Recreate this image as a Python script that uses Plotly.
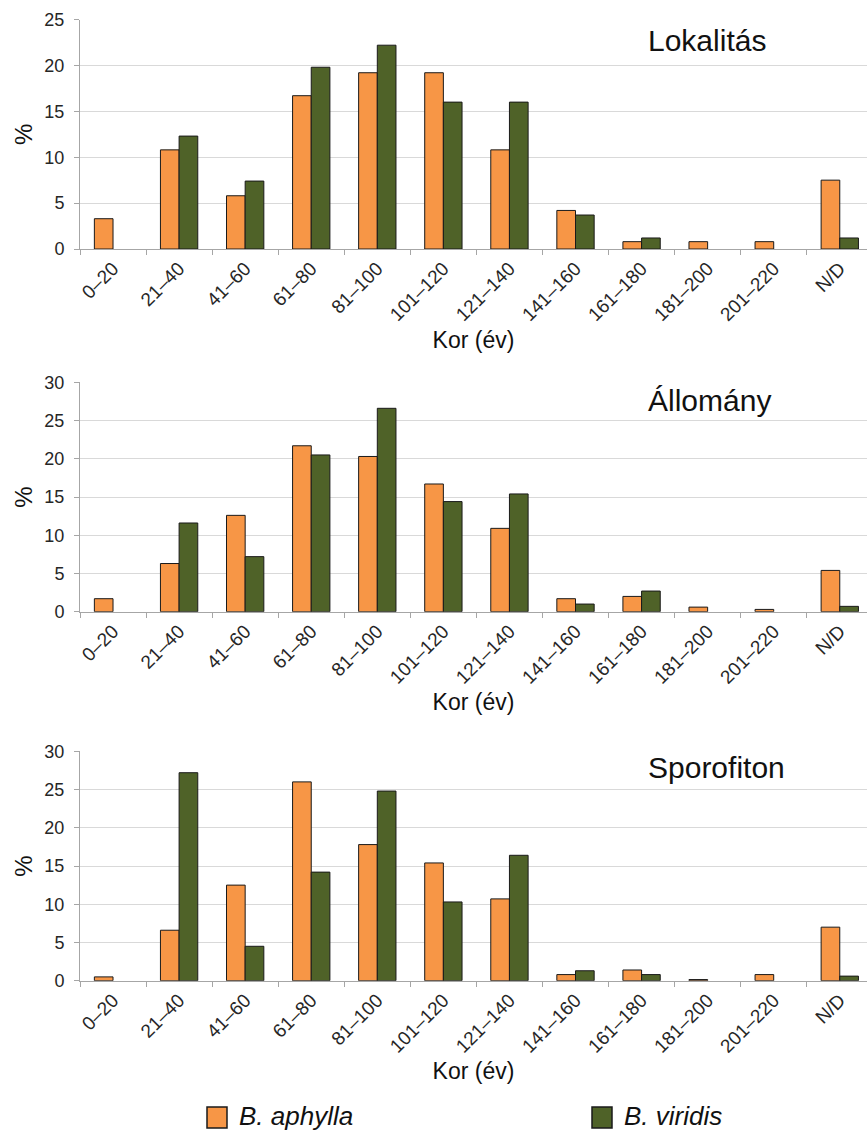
import plotly.graph_objects as go

# Age classes (years)
age_classes = ["0–20", "21–40", "41–60", "61–80", "81–100", "101–120",
               "121–140", "141–160", "161–180", "181–200", "201–220", "N/D"]

series_names = ["B. aphylla", "B. viridis"]

# Percent of localities
lokalitas_aphylla = [3.3, 10.8, 5.8, 16.7, 19.2, 19.2, 10.8, 4.2, 0.8, 0.8, 0.8, 7.5]
lokalitas_viridis = [0, 12.3, 7.4, 19.8, 22.2, 16.0, 16.0, 3.7, 1.2, 0, 0, 1.2]

# Percent of populations
allomany_aphylla = [1.7, 6.3, 12.6, 21.7, 20.3, 16.7, 10.9, 1.7, 2.0, 0.6, 0.3, 5.4]
allomany_viridis = [0, 11.6, 7.2, 20.5, 26.6, 14.4, 15.4, 1.0, 2.7, 0, 0, 0.7]

# Percent of sporophytes
sporofiton_aphylla = [0.5, 6.6, 12.5, 26.0, 17.8, 15.4, 10.7, 0.8, 1.4, 0.15, 0.8, 7.0]
sporofiton_viridis = [0, 27.2, 4.5, 14.2, 24.8, 10.3, 16.4, 1.3, 0.8, 0, 0, 0.6]

panel_titles = ["Lokalitás", "Állomány", "Sporofiton"]
y_maxima = [25, 30, 30]
x_title = "Kor (év)"
y_title = "%"

W, H = 867, 1130
FONT = "Liberation Sans, Arial, sans-serif"
ORANGE = "#F79646"
GREEN = "#4F6228"
series_colors = [ORANGE, GREEN]

panels = [
    (lokalitas_aphylla, lokalitas_viridis),
    (allomany_aphylla, allomany_viridis),
    (sporofiton_aphylla, sporofiton_viridis),
]

# pixel extents of each plot area (top, bottom)
panel_px = [(19.5, 249.0), (382.3, 611.7), (751.3, 980.7)]
title_px = [40.0, 400.5, 767.5]
x_left = 80.0


def px_x(p):
    return p / W


def px_y(p):
    return 1 - p / H


def nonzero(vals):
    # empty classes get no bar at all (not even an outline)
    return [v if v > 0 else None for v in vals]


fig = go.Figure()

for i, pair in enumerate(panels):
    suffix = "" if i == 0 else str(i + 1)
    for name, vals, color in zip(series_names, pair, series_colors):
        fig.add_trace(go.Bar(
            x=age_classes, y=nonzero(vals), name=name,
            marker=dict(color=color, line=dict(color="#1a1a1a", width=1)),
            xaxis="x" + suffix, yaxis="y" + suffix,
            showlegend=False,
        ))

layout = dict(
    width=W, height=H,
    margin=dict(l=0, r=0, t=0, b=0, autoexpand=False),
    paper_bgcolor="white", plot_bgcolor="white",
    barmode="group", bargap=0.435, bargroupgap=0,
    font=dict(family=FONT, color="#262626"),
    showlegend=False,
)

annotations = []
shapes = []
for i in range(3):
    suffix = "" if i == 0 else str(i + 1)
    top, bot = panel_px[i]
    layout["xaxis" + suffix] = dict(
        domain=[px_x(x_left), 1.0],
        anchor="y" + suffix,
        type="category",
        range=[-0.5, 11.412],
        tickson="boundaries",
        ticks="outside", ticklen=5, tickcolor="#a6a6a6",
        showline=True, linecolor="#a6a6a6", linewidth=1,
        showgrid=False,
        tickangle=-45,
        tickfont=dict(size=19, family=FONT, color="#262626"),
        automargin=True,
        title=dict(text=x_title, font=dict(size=23, family=FONT, color="#111"),
                   standoff=7),
    )
    layout["yaxis" + suffix] = dict(
        domain=[px_y(bot), px_y(top)],
        anchor="x" + suffix,
        range=[0, y_maxima[i]], dtick=5,
        ticks="outside", ticklen=5, tickcolor="#a6a6a6",
        showline=True, linecolor="#a6a6a6", linewidth=1,
        showgrid=True, gridcolor="#d9d9d9", gridwidth=1,
        zeroline=False,
        tickfont=dict(size=18, family=FONT, color="#262626"),
        ticklabelstandoff=6,
        automargin=True,
        title=dict(text=y_title, font=dict(size=24, family=FONT, color="#111"),
                   standoff=4),
    )
    annotations.append(dict(
        text=panel_titles[i], xref="paper", yref="paper",
        x=px_x(646), xanchor="left",
        y=px_y(title_px[i]), yanchor="middle",
        showarrow=False, font=dict(size=30, family=FONT, color="#111"),
    ))

# legend: colour key boxes with italic species names
legend_boxes = [(207, 227), (592, 612)]
for (x0, x1), name, color in zip(legend_boxes, series_names, series_colors):
    shapes.append(dict(
        type="rect", xref="paper", yref="paper",
        x0=px_x(x0), x1=px_x(x1), y0=px_y(1128), y1=px_y(1107),
        fillcolor=color, line=dict(color="#1a1a1a", width=1.5),
    ))
    annotations.append(dict(
        text=f"<i>{name}</i>", xref="paper", yref="paper",
        x=px_x(x1 + 10), xanchor="left",
        y=px_y(1115.5), yanchor="middle",
        showarrow=False, font=dict(size=26, family=FONT, color="#111"),
    ))

layout["annotations"] = annotations
layout["shapes"] = shapes
fig.update_layout(**layout)

fig.write_html("out.html")
